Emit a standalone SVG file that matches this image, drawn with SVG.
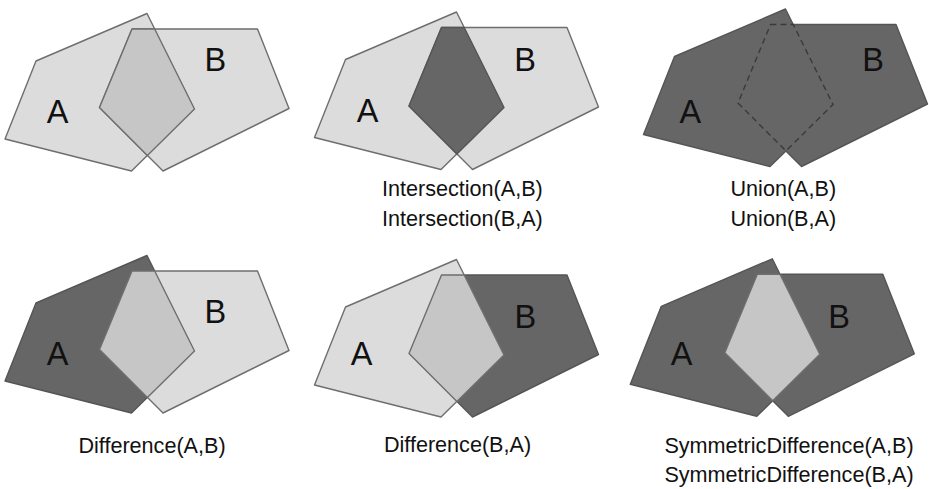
<svg xmlns="http://www.w3.org/2000/svg" xmlns:xlink="http://www.w3.org/1999/xlink" width="929" height="489" viewBox="0 0 929 489">
<style>
.lt{fill:#dcdcdc;stroke:#6e6e6e;stroke-width:1.4;stroke-linejoin:round}
.md{fill:#c6c6c6;stroke:#6e6e6e;stroke-width:1.4;stroke-linejoin:round}
.dk{fill:#666666;stroke:#555555;stroke-width:1.4;stroke-linejoin:round}
.dkn{fill:#666666;stroke:none}
.dash{fill:none;stroke:#3a3a3a;stroke-width:1.4;stroke-dasharray:6,4}
.lbl{font-family:"Liberation Sans",Arial,sans-serif;font-size:32.5px;fill:#111;text-anchor:middle}
.cap{font-family:"Liberation Sans",Arial,sans-serif;font-size:21.6px;fill:#111;text-anchor:middle}
</style>
<defs>
<polygon id="pA" points="147,13.5 194.5,109 131.5,171 5,139 36,61"/>
<polygon id="pB" points="132,29 257.5,29 289,108.5 163,171 99.5,107.5"/>
<polygon id="pI" points="132,29 154.7,29 194.5,109 147.4,155.4 99.5,107.5"/>
<polygon id="pU" points="147,13.5 154.7,29 257.5,29 289,108.5 163,171 147.4,155.4 131.5,171 5,139 36,61"/>
</defs>

<g id="panel1">
<g transform="translate(0,0)">
<use xlink:href="#pA" class="lt"/>
<use xlink:href="#pB" class="lt"/>
<use xlink:href="#pI" class="md"/>
</g>
<text class="lbl" x="57.5" y="122.7">A</text>
<text class="lbl" x="215.3" y="71">B</text>
</g>

<g id="panel2">
<g transform="translate(309.5,-1.5)">
<use xlink:href="#pA" class="lt"/>
<use xlink:href="#pB" class="lt"/>
<use xlink:href="#pI" class="dk"/>
</g>
<text class="lbl" x="367.5" y="121.7">A</text>
<text class="lbl" x="525" y="70.7">B</text>
<text class="cap" x="462.4" y="196">Intersection(A,B)</text>
<text class="cap" x="462.4" y="226">Intersection(B,A)</text>
</g>

<g id="panel3">
<g transform="translate(638.5,-4.5)">
<use xlink:href="#pU" class="dk"/>
<use xlink:href="#pI" class="dash"/>
</g>
<text class="lbl" x="690.3" y="122.7">A</text>
<text class="lbl" x="873" y="70.7">B</text>
<text class="cap" x="783.3" y="196">Union(A,B)</text>
<text class="cap" x="783.3" y="226">Union(B,A)</text>
</g>

<g id="panel4">
<g transform="translate(0,242)">
<use xlink:href="#pA" class="dk"/>
<use xlink:href="#pB" class="lt"/>
<use xlink:href="#pI" class="md"/>
</g>
<text class="lbl" x="57.5" y="365">A</text>
<text class="lbl" x="215.3" y="323.3">B</text>
<text class="cap" x="152" y="453">Difference(A,B)</text>
</g>

<g id="panel5">
<g transform="translate(309.5,246)">
<use xlink:href="#pB" class="dk"/>
<use xlink:href="#pA" class="lt"/>
<use xlink:href="#pI" class="md"/>
</g>
<text class="lbl" x="361.5" y="365">A</text>
<text class="lbl" x="525.3" y="328.3">B</text>
<text class="cap" x="457.5" y="452">Difference(B,A)</text>
</g>

<g id="panel6">
<g transform="translate(625.3,245.3)">
<use xlink:href="#pU" class="dk"/>
<use xlink:href="#pI" class="md"/>
</g>
<text class="lbl" x="681.5" y="365">A</text>
<text class="lbl" x="839" y="328.3">B</text>
<text class="cap" x="789" y="453">SymmetricDifference(A,B)</text>
<text class="cap" x="789" y="482">SymmetricDifference(B,A)</text>
</g>
</svg>
